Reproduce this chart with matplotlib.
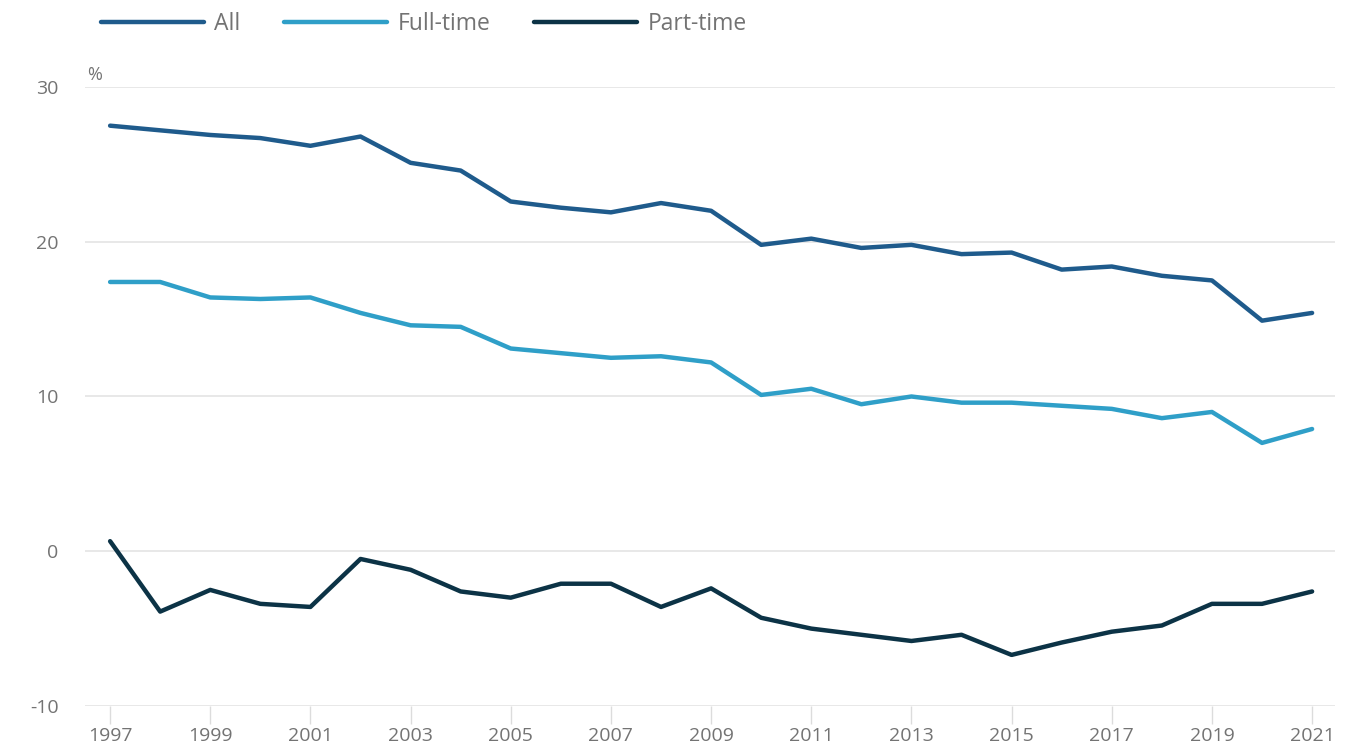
import numpy as np, matplotlib
matplotlib.use("Agg")
import matplotlib.pyplot as plt

plt.rcParams['font.family'] = ['Open Sans', 'DejaVu Sans']
plt.rcParams['axes.unicode_minus'] = False

years = list(range(1997, 2022))
all_vals = [27.5, 27.2, 26.9, 26.7, 26.2, 26.8, 25.1, 24.6, 22.6, 22.2, 21.9, 22.5, 22.0,
            19.8, 20.2, 19.6, 19.8, 19.2, 19.3, 18.2, 18.4, 17.8, 17.5, 14.9, 15.4]
full_time = [17.4, 17.4, 16.4, 16.3, 16.4, 15.4, 14.6, 14.5, 13.1, 12.8, 12.5, 12.6, 12.2,
             10.1, 10.5, 9.5, 10.0, 9.6, 9.6, 9.4, 9.2, 8.6, 9.0, 7.0, 7.9]
part_time = [0.65, -3.9, -2.5, -3.4, -3.6, -0.5, -1.2, -2.6, -3.0, -2.1, -2.1, -3.6, -2.4,
             -4.3, -5.0, -5.4, -5.8, -5.4, -6.7, -5.9, -5.2, -4.8, -3.4, -3.4, -2.6]
yticks = [-10, 0, 10, 20, 30]
xticks = list(range(1997, 2022, 2))

GREY = "#737373"
fig = plt.figure(figsize=(13.61, 7.5), dpi=100)
ax = fig.add_axes([0.0625, 0.0587, 0.9185, 0.8253])

ax.plot(years, all_vals, color="#1f5b8c", lw=3.2, label="All", solid_capstyle="round")
ax.plot(years, full_time, color="#2f9fc8", lw=3.2, label="Full-time", solid_capstyle="round")
ax.plot(years, part_time, color="#0c3346", lw=3.2, label="Part-time", solid_capstyle="round")

ax.set_xlim(1996.5, 2021.46)
ax.set_ylim(-10, 30)
ax.set_yticks(yticks)
ax.set_xticks(xticks)
ax.grid(axis="y", color="#e4e4e4", lw=1.2)
ax.set_axisbelow(True)
for s in ax.spines.values():
    s.set_visible(False)
ax.tick_params(axis="y", length=0, pad=19, labelsize=14, labelcolor=GREY)
ax.tick_params(axis="x", length=13, width=1, color="#dcdcdc", pad=2, labelsize=14, labelcolor=GREY)
ax.text(0.002, 1.005, "%", transform=ax.transAxes, fontsize=13, color=GREY, ha="left", va="bottom")

fig.legend(loc="center left", bbox_to_anchor=(0.059, 0.968), ncol=3, frameon=False,
           fontsize=16.5, labelcolor=GREY, handlelength=4.5, handletextpad=0.45, columnspacing=1.9)

fig.savefig("out.png", dpi=100)
